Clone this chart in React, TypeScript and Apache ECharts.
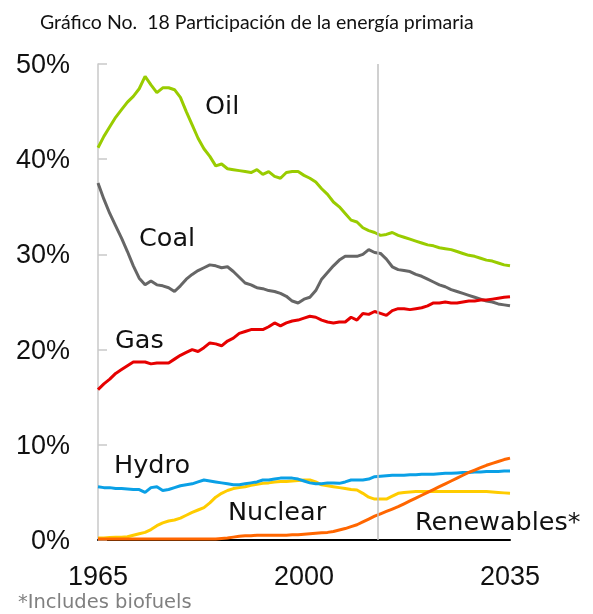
import React, { useEffect, useRef } from "react";
import * as echarts from "echarts";

const years: number[] = [];
for (let y = 1965; y <= 2035; y++) years.push(y);

const oil = [
  41.2, 42.4, 43.4, 44.4, 45.2, 46.0, 46.6, 47.4, 48.7, 47.8,
  47.0, 47.5, 47.5, 47.3, 46.5, 45.0, 43.6, 42.2, 41.1, 40.3,
  39.3, 39.5, 39.0, 38.9, 38.8, 38.7, 38.6, 38.9, 38.4, 38.7,
  38.2, 38.0, 38.6, 38.7, 38.7, 38.3, 38.0, 37.6, 36.9, 36.3,
  35.5, 35.0, 34.3, 33.6, 33.4, 32.8, 32.5, 32.3, 32.0, 32.1,
  32.3, 32.0, 31.8, 31.6, 31.4, 31.2, 31.0, 30.9, 30.7, 30.6,
  30.5, 30.3, 30.1, 29.9, 29.8, 29.6, 29.4, 29.3, 29.1, 28.9,
  28.8,
];

const coal = [
  37.5, 35.8, 34.3, 33.0, 31.7, 30.3, 28.8, 27.5, 26.8, 27.2,
  26.8, 26.7, 26.5, 26.1, 26.7, 27.4, 27.9, 28.3, 28.6, 28.9,
  28.8, 28.6, 28.7, 28.2, 27.6, 27.0, 26.8, 26.5, 26.4, 26.2,
  26.1, 25.9, 25.6, 25.1, 24.9, 25.3, 25.5, 26.2, 27.4, 28.1,
  28.8, 29.4, 29.8, 29.8, 29.8, 30.0, 30.5, 30.2, 30.1, 29.5,
  28.7, 28.4, 28.3, 28.2, 27.9, 27.7, 27.4, 27.1, 26.8, 26.6,
  26.3, 26.1, 25.9, 25.7, 25.5, 25.3, 25.1, 25.0, 24.8, 24.7,
  24.6,
];

const gas = [
  15.8, 16.4, 16.9, 17.5, 17.9, 18.3, 18.7, 18.7, 18.7, 18.5,
  18.6, 18.6, 18.6, 19.0, 19.4, 19.7, 20.0, 19.8, 20.2, 20.7,
  20.6, 20.4, 20.9, 21.2, 21.7, 21.9, 22.1, 22.1, 22.1, 22.4,
  22.8, 22.5, 22.8, 23.0, 23.1, 23.3, 23.5, 23.4, 23.1, 22.9,
  22.8, 22.9, 22.9, 23.4, 23.1, 23.8, 23.7, 24.0, 23.8, 23.6,
  24.1, 24.3, 24.3, 24.2, 24.3, 24.4, 24.6, 24.9, 24.9, 25.0,
  24.9, 24.9, 25.0, 25.1, 25.1, 25.2, 25.2, 25.3, 25.4, 25.5,
  25.55,
];

const hydro = [
  5.6, 5.5, 5.5, 5.4, 5.4, 5.35, 5.3, 5.3, 5.0, 5.5,
  5.6, 5.2, 5.3, 5.5, 5.7, 5.8, 5.9, 6.1, 6.3, 6.2,
  6.1, 6.0, 5.9, 5.8, 5.8, 5.9, 6.0, 6.1, 6.3, 6.3,
  6.4, 6.5, 6.5, 6.5, 6.4, 6.2, 6.0, 5.9, 5.9, 6.0,
  6.0, 5.95, 6.1, 6.3, 6.3, 6.3, 6.4, 6.65, 6.7, 6.75,
  6.8, 6.8, 6.8, 6.85, 6.85, 6.9, 6.9, 6.9, 6.95, 7.0,
  7.0, 7.05, 7.1, 7.1, 7.15, 7.15, 7.2, 7.2, 7.2, 7.25,
  7.25,
];

const nuclear = [
  0.2, 0.2, 0.25, 0.3, 0.3, 0.35, 0.5, 0.65, 0.8, 1.1,
  1.5, 1.8, 2.0, 2.1, 2.3, 2.6, 2.9, 3.15, 3.4, 3.9,
  4.5, 4.9, 5.2, 5.4, 5.5, 5.6, 5.75, 5.85, 5.95, 6.0,
  6.1, 6.15, 6.15, 6.2, 6.25, 6.3, 6.3, 6.1, 5.8, 5.7,
  5.6, 5.5, 5.4, 5.3, 5.25, 4.9, 4.5, 4.3, 4.3, 4.3,
  4.6, 4.9, 5.0, 5.05, 5.1, 5.1, 5.1, 5.1, 5.1, 5.1,
  5.1, 5.1, 5.1, 5.1, 5.1, 5.1, 5.1, 5.05, 5.0, 4.95,
  4.9,
];

const renewables = [
  0.1, 0.1, 0.1, 0.1, 0.1, 0.1, 0.1, 0.1, 0.1, 0.1,
  0.1, 0.1, 0.1, 0.1, 0.1, 0.1, 0.1, 0.1, 0.1, 0.1,
  0.1, 0.15, 0.2, 0.3, 0.4, 0.45, 0.45, 0.5, 0.5, 0.5,
  0.5, 0.5, 0.5, 0.55, 0.55, 0.6, 0.65, 0.7, 0.75, 0.8,
  0.9, 1.05, 1.2, 1.4, 1.6, 1.9, 2.2, 2.5, 2.75, 3.0,
  3.25, 3.5, 3.8, 4.1, 4.4, 4.7, 5.0, 5.3, 5.6, 5.9,
  6.2, 6.5, 6.8, 7.1, 7.35, 7.6, 7.85, 8.05, 8.25, 8.45,
  8.6,
];

const xTickValues = [1965, 2000, 2035];
const projectionStart = 2012.5;

const FONT = "'Liberation Sans', Arial, sans-serif";
const LABEL_FONT = "'DejaVu Sans', 'Liberation Sans', sans-serif";

function pairs(vals: number[]) {
  return years.map((y, i) => [y, vals[i]]);
}

export default function App() {
  const ref = useRef<HTMLDivElement>(null);
  useEffect(() => {
    if (!ref.current) return;
    const chart = echarts.init(ref.current, undefined, { renderer: "svg" });
    const mk = (name: string, vals: number[], color: string, extra: any = {}) => ({
      name,
      type: "line",
      data: pairs(vals),
      showSymbol: false,
      symbol: "none",
      smooth: false,
      lineStyle: { color, width: 3 },
      itemStyle: { color },
      ...extra,
    });
    const labelText = (text: string, x: number, y: number) => ({
      type: "text",
      x,
      y,
      style: {
        text,
        font: `25.5px ${LABEL_FONT}`,
        fill: "#111",
        verticalAlign: "middle",
        align: "left",
      },
    });
    chart.setOption({
      animation: false,
      grid: { left: 98, right: 83, top: 64, bottom: 74, containLabel: false },
      xAxis: {
        type: "value",
        min: 1965,
        max: 2035,
        axisLine: { show: true, lineStyle: { color: "#000", width: 2 } },
        axisTick: { show: false },
        splitLine: { show: false },
        axisLabel: {
          customValues: xTickValues,
          formatter: (v: number) => String(v),
          fontSize: 27,
          fontFamily: FONT,
          color: "#111",
          margin: 22,
        },
      },
      yAxis: {
        type: "value",
        min: 0,
        max: 50,
        interval: 10,
        axisLine: { show: true, lineStyle: { color: "#c8c8c8", width: 1.5 } },
        axisTick: { show: true, inside: true, length: 9, lineStyle: { color: "#c8c8c8", width: 1.5 } },
        splitLine: { show: false },
        axisLabel: {
          formatter: "{value}%",
          fontSize: 27,
          fontFamily: FONT,
          color: "#111",
          margin: 28,
        },
      },
      series: [
        mk("Coal", coal, "#666666", {
          markLine: {
            silent: true,
            symbol: "none",
            label: { show: false },
            lineStyle: { color: "#c0c0c0", width: 1.5, type: "solid" },
            data: [{ xAxis: projectionStart }],
          },
        }),
        mk("Oil", oil, "#99cc00"),
        mk("Nuclear", nuclear, "#ffcc00"),
        mk("Hydro", hydro, "#0aa0e6"),
        mk("Gas", gas, "#e60000"),
        mk("Renewables*", renewables, "#ff6600"),
      ],
      graphic: [
        {
          type: "text",
          left: 40,
          top: 11,
          style: {
            text: "Gráfico No.  18 Participación de la energía primaria",
            font: "19.5px Lato, 'Open Sans', sans-serif",
            fill: "#111",
          },
        },
        labelText("Oil", 205, 105),
        labelText("Coal", 139, 237),
        labelText("Gas", 115, 339),
        labelText("Hydro", 114, 464),
        labelText("Nuclear", 228, 511),
        labelText("Renewables*", 415, 521),
        {
          type: "text",
          x: 18,
          y: 601,
          style: {
            text: "*Includes biofuels",
            font: `19.5px ${LABEL_FONT}`,
            fill: "#808080",
            verticalAlign: "middle",
            align: "left",
          },
        },
      ],
    });
    return () => chart.dispose();
  }, []);
  return (
    <div
      ref={ref}
      style={{ position: "fixed", left: 0, top: 0, width: 593, height: 614 }}
    />
  );
}
